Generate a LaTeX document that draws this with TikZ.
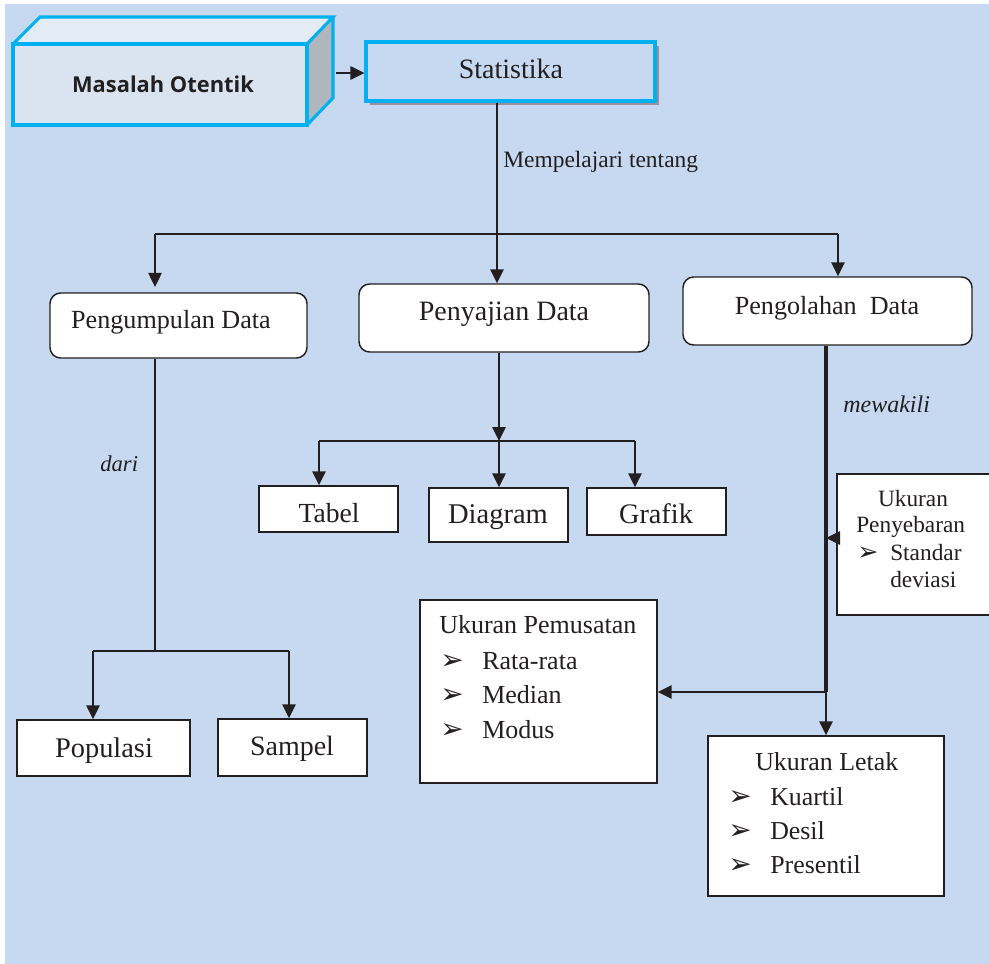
\documentclass[tikz,border=0pt]{standalone}
\usepackage{fontspec}
\setmainfont{Liberation Serif}
\newfontfamily\boxsans{Open Sans}
\newfontfamily\dingfont{DejaVu Sans}
\usetikzlibrary{arrows.meta,fit}
\definecolor{bgblue}{HTML}{C6D9F0}
\definecolor{cyanb}{HTML}{00B0F0}
\definecolor{inkc}{HTML}{231F20}
\definecolor{frontf}{HTML}{DAE4F1}
\definecolor{topf}{HTML}{E3EBF5}
\definecolor{sidef}{HTML}{AFB6BE}
\definecolor{shadowc}{HTML}{9E8E9E}
\newcommand\bul{{\dingfont\fontsize{21}{21}\selectfont ➢}}
\newcommand\bulsm{{\dingfont\fontsize{19}{19}\selectfont ➢}}
\tikzset{
  conn/.style={draw=inkc, line width=1.2pt},
  arr/.style={conn, -{Triangle[length=10.5pt,width=10pt]}},
  rbox/.style={draw=inkc, fill=white, line width=1.1pt, rounded corners=8pt, inner sep=0pt},
  sbox/.style={draw=inkc, fill=white, line width=1.1pt, inner sep=0pt},
  cbox/.style={draw=cyanb, line width=2.3pt, inner sep=0pt},
  txt/.style={inner sep=0pt, text=inkc, anchor=base},
  ltxt/.style={inner sep=0pt, text=inkc, anchor=base west},
  bulnode/.style={inner sep=0pt, text=inkc, anchor=base west},
  pmf/.style={font=\fontsize{19.5}{22}\selectfont},
  ltf/.style={font=\fontsize{19.4}{22}\selectfont},
  pyf/.style={font=\fontsize{17.5}{20}\selectfont},
}
\begin{document}
\begin{tikzpicture}[x=0.75pt,y=-0.75pt]
\useasboundingbox (0,0) rectangle (989,964);
\fill[bgblue] (5,4) rectangle (989,964);

% Masalah Otentik 3D box
\fill[topf] (13,44) -- (40,17) -- (333,17) -- (307,44) -- cycle;
\fill[sidef] (307,44) -- (333,17) -- (333,98) -- (307,125) -- cycle;
\node[cbox, fill=frontf, fit={(13,44) (307,125)}] (mo) {};
\draw[cyanb, line width=2.3pt, line join=miter] (13,44) -- (40,17) -- (333,17) -- (307,44);
\draw[cyanb, line width=2.3pt, line join=miter] (333,17) -- (333,98) -- (307,125);
\node[txt] (moT) at (163,92) {\boxsans\bfseries\fontsize{16.4}{19}\selectfont Masalah Otentik};
\coordinate (moside) at (336,73);

% Statistika
\fill[shadowc] (370,46) rectangle (659,105);
\node[cbox, fill=bgblue, fit={(366,42) (655,101)}] (st) {};
\node[txt] (stT) at (511,78) {\fontsize{21}{24}\selectfont Statistika};
\draw[arr] (moside) -- (st.west |- moside);

% hub
\coordinate (hub) at (497,234);
\coordinate (hubL) at (155,234);
\coordinate (hubR) at (838,234);
\draw[conn] (st.south -| hub) -- (hub);
\draw[conn] (hubL) -- (hubR);
\node[ltxt] (mpT) at (503,167) {\fontsize{17.6}{20}\selectfont Mempelajari tentang};

% level 2
\node[rbox, fit={(50,293) (307,358)}] (pd) {};
\node[txt] (pdT) at (171,328) {\fontsize{19.6}{22}\selectfont Pengumpulan Data};
\node[rbox, fit={(359,284) (649,352)}] (pj) {};
\node[txt] (pjT) at (504,320) {\fontsize{21}{24}\selectfont Penyajian Data};
\node[rbox, fit={(683,277) (972,345)}] (po) {};
\node[txt] (poT) at (827,314) {\fontsize{19.6}{22}\selectfont Pengolahan~~Data};

\draw[arr, shorten >=4pt] (hubL) -- (pd.north -| hubL);
\draw[arr] (hub) -- (pj.north -| hub);
\draw[arr] (hubR) -- (po.north -| hubR);

% Penyajian branch
\coordinate (pjhub) at (499,441);
\coordinate (pjL) at (319,441);
\coordinate (pjR) at (635,441);
\draw[arr] (pj.south -| pjhub) -- (pjhub);
\draw[conn] (pjL) -- (pjR);
\node[sbox, fit={(259,486) (398,532)}] (tb) {};
\node[txt] (tbT) at (329,522) {\fontsize{20.7}{24}\selectfont Tabel};
\node[sbox, fit={(429,488) (568,542)}] (dg) {};
\node[txt] (dgT) at (498,523) {\fontsize{21.4}{24}\selectfont Diagram};
\node[sbox, fit={(587,488) (726,535)}] (gf) {};
\node[txt] (gfT) at (656,523) {\fontsize{21.2}{24}\selectfont Grafik};
\draw[arr] (pjL) -- (tb.north -| pjL);
\draw[arr] (pjhub) -- (dg.north -| pjhub);
\draw[arr] (pjR) -- (gf.north -| pjR);

% Pengumpulan branch
\coordinate (pdhub) at (155,651);
\coordinate (pdL) at (93,651);
\coordinate (pdR) at (289,651);
\draw[conn] (pd.south -| pdhub) -- (pdhub);
\draw[conn] (pdL) -- (pdR);
\node[ltxt] (drT) at (100,471) {\fontsize{17}{20}\selectfont\itshape dari};
\node[sbox, fit={(17,720) (190,776)}] (pp) {};
\node[txt] (ppT) at (104,757) {\fontsize{21.3}{24}\selectfont Populasi};
\node[sbox, fit={(218,719) (367,776)}] (sp) {};
\node[txt] (spT) at (292,755) {\fontsize{21}{24}\selectfont Sampel};
\draw[arr] (pdL) -- (pp.north -| pdL);
\draw[arr] (pdR) -- (sp.north -| pdR);

% Pengolahan branch
\coordinate (pohub) at (826,692);
\coordinate (kink) at (826,538);
\draw[draw=inkc, line width=2.6pt] (po.south -| pohub) -- (pohub);
\node[ltxt] (mwT) at (843,412) {\fontsize{18}{20}\selectfont\itshape mewakili};

% Ukuran Penyebaran
\node[sbox, fit={(837,474) (993,615)}] (py) {};
\node[txt, pyf] (pyT1) at (913,506) {Ukuran};
\node[ltxt, pyf] (pyT2) at (856,532) {Penyebaran};
\node[bulnode] (pyB) at (857,560) {\bulsm};
\node[ltxt, pyf] (pyT3) at (890,560) {Standar};
\node[ltxt, pyf] (pyT4) at (890,587) {deviasi};
\draw[arr] (py.west |- kink) -- (kink);

% Ukuran Pemusatan
\node[sbox, fit={(420,600) (657,783)}] (pm) {};
\node[ltxt, pmf] (pmT) at (439,633) {Ukuran Pemusatan};
\node[bulnode] (pmB1) at (440,669) {\bul};
\node[ltxt, pmf] (pmT1) at (482,669) {Rata-rata};
\node[bulnode] (pmB2) at (440,703) {\bul};
\node[ltxt, pmf] (pmT2) at (482,703) {Median};
\node[bulnode] (pmB3) at (440,738) {\bul};
\node[ltxt, pmf] (pmT3) at (482,738) {Modus};
\draw[arr] (pohub) -- (pm.east |- pohub);

% Ukuran Letak
\node[sbox, fit={(708,736) (944,896)}] (lt) {};
\node[ltxt, ltf] (ltT) at (755,770) {Ukuran Letak};
\node[bulnode] (ltB1) at (728,805) {\bul};
\node[ltxt, ltf] (ltT1) at (770,805) {Kuartil};
\node[bulnode] (ltB2) at (728,839) {\bul};
\node[ltxt, ltf] (ltT2) at (770,839) {Desil};
\node[bulnode] (ltB3) at (728,873) {\bul};
\node[ltxt, ltf] (ltT3) at (770,873) {Presentil};
\draw[arr] (pohub) -- (lt.north -| pohub);
\end{tikzpicture}
\end{document}
